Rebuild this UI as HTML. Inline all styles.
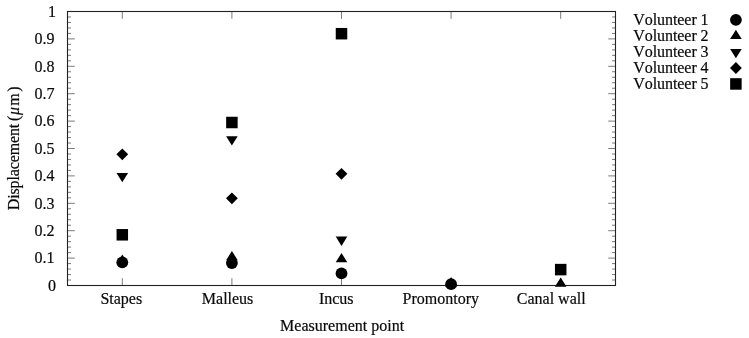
<!DOCTYPE html>
<html><head><meta charset="utf-8"><title>Displacement chart</title>
<style>html,body{margin:0;padding:0;background:#fff}svg{display:block}text{font-family:"Liberation Serif","Times New Roman",serif;font-size:16px;fill:#0a0a0a;stroke:#0a0a0a;stroke-width:0.2px}</style></head><body>
<svg width="749" height="338" viewBox="0 0 749 338">
<rect width="749" height="338" fill="#fff"/>
<path d="M67.50 285.50h7.3M615.50 285.50h-7.3M67.50 280.02h3.5M615.50 280.02h-3.5M67.50 274.54h3.5M615.50 274.54h-3.5M67.50 269.06h3.5M615.50 269.06h-3.5M67.50 263.58h3.5M615.50 263.58h-3.5M67.50 258.10h7.3M615.50 258.10h-7.3M67.50 252.62h3.5M615.50 252.62h-3.5M67.50 247.14h3.5M615.50 247.14h-3.5M67.50 241.66h3.5M615.50 241.66h-3.5M67.50 236.18h3.5M615.50 236.18h-3.5M67.50 230.70h7.3M615.50 230.70h-7.3M67.50 225.22h3.5M615.50 225.22h-3.5M67.50 219.74h3.5M615.50 219.74h-3.5M67.50 214.26h3.5M615.50 214.26h-3.5M67.50 208.78h3.5M615.50 208.78h-3.5M67.50 203.30h7.3M615.50 203.30h-7.3M67.50 197.82h3.5M615.50 197.82h-3.5M67.50 192.34h3.5M615.50 192.34h-3.5M67.50 186.86h3.5M615.50 186.86h-3.5M67.50 181.38h3.5M615.50 181.38h-3.5M67.50 175.90h7.3M615.50 175.90h-7.3M67.50 170.42h3.5M615.50 170.42h-3.5M67.50 164.94h3.5M615.50 164.94h-3.5M67.50 159.46h3.5M615.50 159.46h-3.5M67.50 153.98h3.5M615.50 153.98h-3.5M67.50 148.50h7.3M615.50 148.50h-7.3M67.50 143.02h3.5M615.50 143.02h-3.5M67.50 137.54h3.5M615.50 137.54h-3.5M67.50 132.06h3.5M615.50 132.06h-3.5M67.50 126.58h3.5M615.50 126.58h-3.5M67.50 121.10h7.3M615.50 121.10h-7.3M67.50 115.62h3.5M615.50 115.62h-3.5M67.50 110.14h3.5M615.50 110.14h-3.5M67.50 104.66h3.5M615.50 104.66h-3.5M67.50 99.18h3.5M615.50 99.18h-3.5M67.50 93.70h7.3M615.50 93.70h-7.3M67.50 88.22h3.5M615.50 88.22h-3.5M67.50 82.74h3.5M615.50 82.74h-3.5M67.50 77.26h3.5M615.50 77.26h-3.5M67.50 71.78h3.5M615.50 71.78h-3.5M67.50 66.30h7.3M615.50 66.30h-7.3M67.50 60.82h3.5M615.50 60.82h-3.5M67.50 55.34h3.5M615.50 55.34h-3.5M67.50 49.86h3.5M615.50 49.86h-3.5M67.50 44.38h3.5M615.50 44.38h-3.5M67.50 38.90h7.3M615.50 38.90h-7.3M67.50 33.42h3.5M615.50 33.42h-3.5M67.50 27.94h3.5M615.50 27.94h-3.5M67.50 22.46h3.5M615.50 22.46h-3.5M67.50 16.98h3.5M615.50 16.98h-3.5M67.50 11.50h7.3M615.50 11.50h-7.3M122.30 285.50v-7.3M122.30 11.50v7.3M231.90 285.50v-7.3M231.90 11.50v7.3M341.50 285.50v-7.3M341.50 11.50v7.3M451.10 285.50v-7.3M451.10 11.50v7.3M560.70 285.50v-7.3M560.70 11.50v7.3" stroke="#222" stroke-width="0.6" fill="none"/>
<rect x="67.50" y="11.50" width="548.00" height="274.00" fill="none" stroke="#222" stroke-width="1.1"/>
<text x="56.0" y="290.70" text-anchor="end">0</text>
<text x="54.4" y="263.30" text-anchor="end">0.1</text>
<text x="54.4" y="235.90" text-anchor="end">0.2</text>
<text x="54.4" y="208.50" text-anchor="end">0.3</text>
<text x="54.4" y="181.10" text-anchor="end">0.4</text>
<text x="54.4" y="153.70" text-anchor="end">0.5</text>
<text x="54.4" y="126.30" text-anchor="end">0.6</text>
<text x="54.4" y="98.90" text-anchor="end">0.7</text>
<text x="54.4" y="71.50" text-anchor="end">0.8</text>
<text x="54.4" y="44.10" text-anchor="end">0.9</text>
<text x="56.0" y="16.70" text-anchor="end">1</text>
<text x="100.4" y="303.8">Stapes</text>
<text x="201.8" y="303.8">Malleus</text>
<text x="318.9" y="303.8">Incus</text>
<text x="402.6" y="303.8">Promontory</text>
<text x="516.8" y="303.8">Canal wall</text>
<text x="342.1" y="331" text-anchor="middle">Measurement point</text>
<text transform="translate(18.6 148) rotate(-90)"><tspan x="-62.2" style="letter-spacing:-0.144px">Displacement </tspan><tspan x="27.1">(</tspan><tspan x="33.06" font-style="italic">μ</tspan><tspan x="42.16">m</tspan><tspan x="56.2">)</tspan></text>
<g fill="#000">
<circle cx="122.30" cy="262.35" r="5.9"/>
<circle cx="231.90" cy="263.10" r="5.9"/>
<circle cx="341.50" cy="273.40" r="5.9"/>
<circle cx="451.10" cy="284.20" r="5.9"/>
<path d="M116.50 263.80L128.10 263.80L122.30 254.50Z"/>
<path d="M226.10 260.20L237.70 260.20L231.90 250.90Z"/>
<path d="M335.70 262.30L347.30 262.30L341.50 253.00Z"/>
<path d="M445.30 286.40L456.90 286.40L451.10 277.10Z"/>
<path d="M554.90 286.70L566.50 286.70L560.70 277.40Z"/>
<path d="M116.50 172.90L128.10 172.90L122.30 182.20Z"/>
<path d="M226.10 136.20L237.70 136.20L231.90 145.50Z"/>
<path d="M335.70 236.60L347.30 236.60L341.50 245.90Z"/>
<path d="M116.40 154.30L122.30 148.40L128.20 154.30L122.30 160.20Z"/>
<path d="M226.00 198.35L231.90 192.45L237.80 198.35L231.90 204.25Z"/>
<path d="M335.60 173.80L341.50 167.90L347.40 173.80L341.50 179.70Z"/>
<rect x="116.55" y="229.05" width="11.5" height="11.5"/>
<rect x="226.15" y="116.75" width="11.5" height="11.5"/>
<rect x="335.75" y="27.95" width="11.5" height="11.5"/>
<rect x="554.95" y="263.85" width="11.5" height="11.5"/>
<circle cx="735.90" cy="19.80" r="5.9"/>
<path d="M730.10 38.95L741.70 38.95L735.90 29.65Z"/>
<path d="M730.10 48.90L741.70 48.90L735.90 58.20Z"/>
<path d="M730.00 68.00L735.90 62.10L741.80 68.00L735.90 73.90Z"/>
<rect x="730.15" y="78.20" width="11.5" height="11.5"/>
</g>
<text x="633.3" y="24.80" style="font-kerning:none;letter-spacing:-0.07px">Volunteer 1</text>
<text x="633.3" y="40.85" style="font-kerning:none;letter-spacing:-0.07px">Volunteer 2</text>
<text x="633.3" y="56.95" style="font-kerning:none;letter-spacing:-0.07px">Volunteer 3</text>
<text x="633.3" y="73.00" style="font-kerning:none;letter-spacing:-0.07px">Volunteer 4</text>
<text x="633.3" y="89.05" style="font-kerning:none;letter-spacing:-0.07px">Volunteer 5</text>
</svg></body></html>
